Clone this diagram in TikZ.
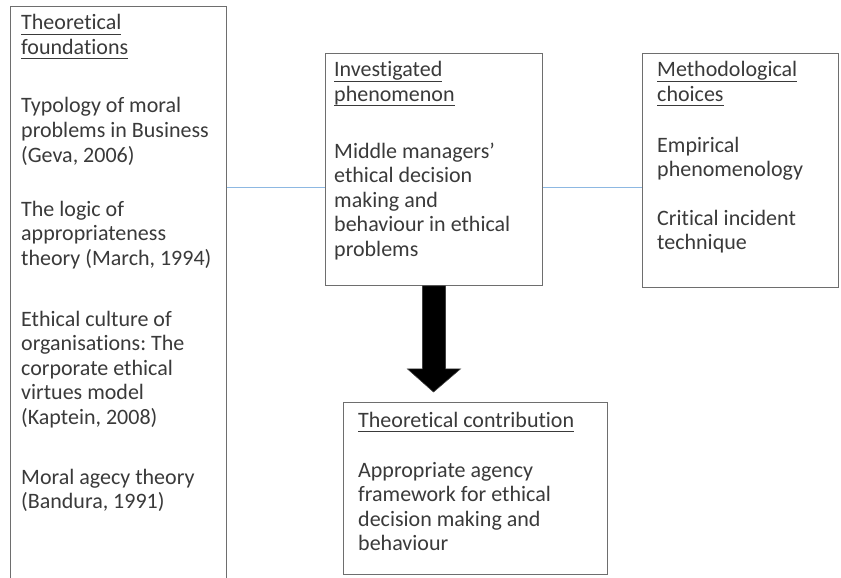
\documentclass[tikz,border=0pt]{standalone}
\usepackage{fontspec}
\setmainfont{Carlito}[Ligatures={NoCommon}]
\usetikzlibrary{calc}
\frenchspacing
\definecolor{txt}{HTML}{3A3A3A}
\definecolor{boxc}{HTML}{6E6E6E}
\definecolor{linkc}{HTML}{8DB8E2}
\newlength\ulw
\newcommand\uline[1]{\settowidth{\ulw}{#1}\rlap{\color{txt}\rule[-4.5pt]{\ulw}{0.9pt}}#1}
\newcommand\tl[1]{\begin{tabular}[t]{@{}l@{}}#1\end{tabular}}
\tikzset{
  frame/.style={draw=boxc, line width=0.9pt, anchor=north west, inner sep=0pt, fill=none},
  para/.style={anchor=base west, inner sep=0pt, text=txt,
    font=\fontsize{22}{24.6}\selectfont\frenchspacing},
  link/.style={draw=linkc, line width=1pt},
  blockarrow/.style={fill=black, draw=black!75, line width=0.6pt, line join=miter}
}
\begin{document}
\begin{tikzpicture}[x=1pt,y=-1pt]
\useasboundingbox (0,0) rectangle (841,578);
\fill[white] (0,0) rectangle (841,578);
% boxes
\node[frame, minimum width=216pt, minimum height=600pt] (found) at (10,6) {};
\node[frame, minimum width=217pt, minimum height=232pt] (inv) at (325,53) {};
\node[frame, minimum width=196pt, minimum height=234pt] (meth) at (642,53) {};
\node[frame, minimum width=264pt, minimum height=172pt] (contrib) at (343,402) {};
% left box texts
\node[para] (f1) at (21,30) {\tl{\uline{Theoretical}\\\uline{foundations}}};
\node[para] (f2) at (21,113) {\tl{Typology of moral\\problems in Business\\(Geva, 2006)}};
\node[para] (f3) at (21,216) {\tl{The logic of\\appropriateness\\theory (March, 1994)}};
\node[para] (f4) at (21,326) {\tl{Ethical culture of\\organisations: The\\corporate ethical\\virtues model\\(Kaptein, 2008)}};
\node[para] (f5) at (21,484) {\tl{Moral agecy theory\\(Bandura, 1991)}};
% middle box texts
\node[para] (i1) at (334,77) {\tl{\uline{Investigated}\\\uline{phenomenon}}};
\node[para] (i2) at (334,158) {\tl{Middle managers’\\ethical decision\\making and\\behaviour in ethical\\problems}};
% right box texts
\node[para] (m1) at (657,77) {\tl{\uline{Methodological}\\\uline{choices}}};
\node[para] (m2) at (657,152) {\tl{Empirical\\phenomenology}};
\node[para] (m3) at (657,225) {\tl{Critical incident\\technique}};
% bottom box texts
\node[para] (c1) at (358,427) {\tl{\uline{Theoretical contribution}}};
\node[para] (c2) at (358,477) {\tl{Appropriate agency\\framework for ethical\\decision making and\\behaviour}};
% connectors
\draw[link] (found.north east |- 0,187.5) -- (inv.west |- 0,187.5);
\draw[link] (inv.east |- 0,187.5) -- (meth.west |- 0,187.5);
% block arrow
\coordinate (tip) at (433.5,392);
\filldraw[blockarrow] ($(inv.south)+(-11.5,0)$) -- ($(inv.south)+(-11.5,83)$) -- ($(inv.south)+(-26.5,83)$)
  -- (tip) -- ($(inv.south)+(26.5,83)$) -- ($(inv.south)+(11.5,83)$) -- ($(inv.south)+(11.5,0)$) -- cycle;
\end{tikzpicture}
\end{document}
